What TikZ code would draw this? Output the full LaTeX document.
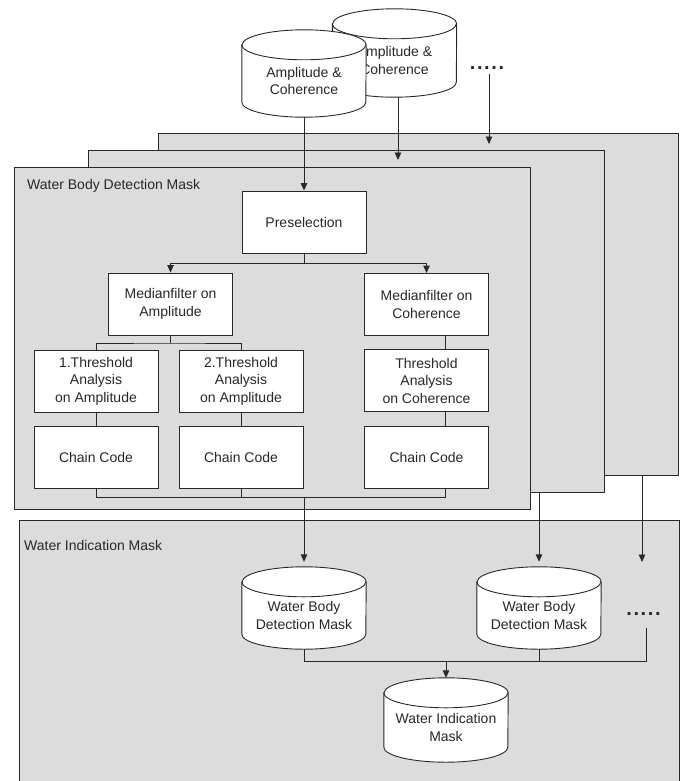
\documentclass[tikz,border=0pt]{standalone}
\usepackage{fontspec}
\setmainfont{Liberation Sans}
\usetikzlibrary{arrows.meta}
\definecolor{panelgray}{RGB}{220,220,220}
\definecolor{ink}{RGB}{40,40,40}
\tikzset{
  panel/.style={draw=ink, fill=panelgray, line width=0.9pt, inner sep=0pt},
  procbox/.style={draw=ink, fill=white, line width=0.9pt, minimum width=124pt, minimum height=62pt,
    inner sep=0pt, align=center, text=ink, font=\fontsize{14}{17.5}\selectfont},
  cylbox/.style={inner sep=0pt, minimum width=124pt},
  cyltext/.style={inner sep=0pt, align=center, text=ink, font=\fontsize{14}{17.5}\selectfont},
  lbl/.style={inner sep=0pt, anchor=west, text=ink, font=\fontsize{14}{17.5}\selectfont},
  dotsnode/.style={inner sep=0pt, anchor=base, text=ink, font=\fontsize{20}{20}\selectfont\bfseries},
  conn/.style={draw=ink, line width=0.9pt},
  arr/.style={conn, -{Triangle[length=7.5pt,width=6.5pt]}},
  cylline/.style={draw=ink, fill=white, line width=0.9pt}
}
\newcommand\drawcyl[1]{%
  \path[cylline] (#1.north west) -- ([yshift=15pt]#1.south west)
    arc[start angle=180,end angle=360,x radius=62pt,y radius=15pt]
    -- (#1.north east)
    arc[start angle=0,end angle=180,x radius=62pt,y radius=15pt] -- cycle;
  \draw[cylline, fill=none] (#1.north west)
    arc[start angle=180,end angle=360,x radius=62pt,y radius=15pt];
}
\newcommand\mycyl[4]{%
  \node[cylbox, minimum height=#3] (#1) at (#2) {};
  \drawcyl{#1}
  \node[cyltext] (#1-t) at (#1.center) {#4};
}
\newcommand\fivedots{.\kern1.6pt.\kern1.6pt.\kern1.6pt.\kern1.6pt.}
\begin{document}
\begin{tikzpicture}[x=1pt,y=-1pt]
\path[use as bounding box] (0,0) rectangle (683,781);
\clip (0,0) rectangle (683,781);

% panels
\node[panel, minimum width=520pt, minimum height=342pt] (pRear) at (418,304) {};
\node[panel, minimum width=516pt, minimum height=342pt] (pMid) at (346,321) {};
\node[panel, minimum width=516pt, minimum height=342pt] (pFront) at (272,338) {};
\node[panel, minimum width=660pt, minimum height=280pt] (pLow) at (349,660) {};

\node[lbl] (lFront) at (27,186) {Water Body Detection Mask};
\node[lbl] (lLow) at (24,545) {Water Indication Mask};

% input cylinders
\mycyl{amp2}{394.5,60.5}{73pt}{Amplitude \&\\Coherence}
\mycyl{amp1}{304,81}{72pt}{Amplitude \&\\Coherence}
\node[dotsnode] (dots1) at (487,70) {\fivedots};

% process boxes
\node[procbox] (pre) at (304,222) {Preselection};
\node[procbox] (medamp) at (170.5,304) {Medianfilter on\\Amplitude};
\node[procbox] (medcoh) at (426.5,304.5) {Medianfilter on\\Coherence};
\node[procbox] (thr1) at (96,381) {1.Threshold\\Analysis\\on Amplitude};
\node[procbox] (thr2) at (241,381) {2.Threshold\\Analysis\\on Amplitude};
\node[procbox] (thrcoh) at (426.5,380.5) {Threshold\\Analysis\\on Coherence};
\node[procbox] (cc1) at (96,457) {Chain Code};
\node[procbox] (cc2) at (241,457) {Chain Code};
\node[procbox] (cc3) at (426.5,457) {Chain Code};

% output cylinders
\mycyl{wbdm1}{304,615.5}{67pt}{Water Body\\Detection Mask}
\mycyl{wbdm2}{539,615.5}{67pt}{Water Body\\Detection Mask}
\mycyl{wim}{446,727.5}{69pt}{Water Indication\\Mask}
\node[dotsnode] (dots2) at (643.5,615) {\fivedots};

% connectors: inputs
\coordinate (rearIn) at (489,144);
\coordinate (midIn) at (398,160);
\draw[arr, shorten <=4pt] (rearIn |- dots1.south) -- (rearIn);
\draw[arr] (midIn |- amp2.south) -- (midIn);
\draw[arr] (amp1.south) -- (pre.north);

% connectors: detection chain
\coordinate (j1) at (304,263);
\draw[conn] (pre.south) -- (j1);
\draw[arr] (j1) -| (medamp.north);
\draw[arr] (j1) -| (medcoh.north);
\coordinate (j2) at (170.5,343);
\draw[conn] (medamp.south) -- (j2);
\draw[conn] (thr1.north) |- (j2) -| (thr2.north);
\draw[conn] (thr1) -- (cc1);
\draw[conn] (thr2) -- (cc2);
\draw[conn] ([xshift=18.5pt]medcoh.south) -- ([xshift=18.5pt]thrcoh.north);
\draw[conn] ([xshift=18.5pt]thrcoh.south) -- ([xshift=18.5pt]cc3.north);
\coordinate (j3) at (304,497);
\draw[conn] (cc1.south) |- ([xshift=18.5pt]cc3.south |- j3) -- ([xshift=18.5pt]cc3.south);
\draw[conn] (cc2.south) -- (cc2.south |- j3);
\draw[arr] (j3) -- ([yshift=20pt]wbdm1.north);

% connectors: other panels to outputs
\draw[arr] (wbdm2.north |- pMid.south) -- ([yshift=20pt]wbdm2.north);
\coordinate (rearOut) at (642,562);
\draw[arr] (rearOut |- pRear.south) -- (rearOut);

% connectors: merge
\coordinate (jB) at (646,661);
\draw[conn] (wbdm1.south) |- (jB) -- ([yshift=-13pt]jB |- dots2.south);
\draw[conn] (wbdm2.south) -- (wbdm2.south |- jB);
\draw[arr] (wim.north |- jB) -- ([yshift=15pt]wim.north);
\end{tikzpicture}
\end{document}
